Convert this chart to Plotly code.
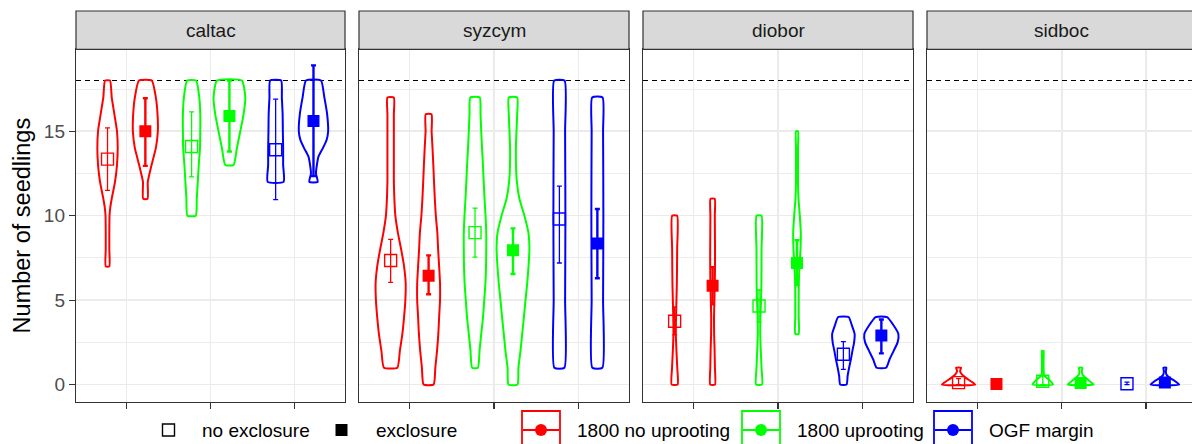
import plotly.graph_objects as go

# ---------------- data ----------------
species = ["caltac", "syzcym", "diobor", "sidboc"]
treatments = ["1800 no uprooting", "1800 uprooting", "OGF margin"]
exclosures = ["no exclosure", "exclosure"]
y_tick_vals = [0, 5, 10, 15]
y_minor_vals = [2.5, 7.5, 12.5, 17.5]
max_seedlings = 18

# group order in every list: (trt1,no) (trt1,ex) (trt2,no) (trt2,ex) (trt3,no) (trt3,ex)
caltac_mean = [13.35, 15.0, 14.1, 15.9, 13.9, 15.6]
caltac_lo = [11.5, 12.95, 12.3, 13.8, 10.95, 12.35]
caltac_hi = [15.2, 16.95, 16.15, 18.0, 16.9, 18.9]
caltac_dens_y = [
    [7, 8, 9, 10, 10.5, 11, 12, 13, 14, 15, 16, 17, 18],
    [11, 12, 12.5, 13, 14, 15, 16, 17, 18],
    [10, 11, 12, 13, 14, 15, 16, 17, 18],
    [13, 14, 15, 16, 17, 18],
    [12, 13, 14, 15, 16, 17, 18],
    [12, 12.5, 13, 13.5, 14, 14.5, 15, 16, 17, 18],
]
caltac_dens = [
    [1.8, 1.8, 1.8, 2.0, 2.8, 4.2, 7.5, 9.5, 10.2, 9.5, 6.9, 4.2, 2.5],
    [2.2, 2.4, 4.2, 6.2, 10.5, 12.5, 12.2, 10.5, 6.4],
    [4.2, 5.2, 6.2, 7.2, 8.4, 8.7, 8.7, 7.7, 4.5],
    [4.2, 7.5, 10.9, 14.2, 15.9, 12.5],
    [8.0, 7.5, 7.5, 7.2, 7.0, 6.2, 5.5],
    [4.2, 2.5, 3.4, 5.0, 9.4, 13.2, 14.7, 13.7, 10.9, 7.5],
]

syzcym_mean = [7.35, 6.45, 9.0, 7.95, 9.8, 8.35]
syzcym_lo = [6.05, 5.35, 7.55, 6.55, 7.2, 6.3]
syzcym_hi = [8.6, 7.65, 10.45, 9.25, 11.75, 10.4]
syzcym_dens_y = [
    [1, 2, 3, 4, 5, 6, 7, 8, 9, 10, 11, 12, 13, 14, 15, 16, 17],
    [0, 1, 2, 3, 4, 5, 6, 7, 8, 9, 10, 11, 12, 13, 14, 15, 16],
    [1, 2, 3, 4, 5, 6, 7, 8, 9, 10, 11, 12, 13, 14, 15, 16, 17],
    [0, 1, 2, 3, 4, 5, 6, 7, 8, 9, 10, 11, 12, 13, 14, 15, 16, 17],
    [1, 5, 10, 15, 18],
    [1, 5, 10, 15, 17],
]
syzcym_dens = [
    [6.7, 9.2, 11.7, 13.4, 14.7, 15.0, 13.4, 10.5, 7.2, 4.7, 3.7, 3.2, 3.2, 3.2, 3.2, 3.2, 3.2],
    [5.0, 6.7, 8.4, 9.7, 10.5, 11.4, 11.4, 10.5, 9.5, 8.7, 7.2, 6.2, 5.4, 4.7, 3.9, 3.0, 2.9],
    [2.9, 4.5, 6.2, 8.0, 9.2, 10.4, 11.0, 11.2, 11.2, 10.5, 9.5, 8.7, 7.9, 7.0, 6.2, 5.5, 4.7],
    [4.5, 5.4, 7.5, 9.2, 10.9, 12.5, 14.2, 15.5, 16.4, 15.4, 11.4, 6.4, 3.9, 3.0, 2.9, 3.5, 4.2, 4.2],
    [5.0, 5.7, 6.0, 5.7, 5.2],
    [5.0, 5.7, 6.0, 5.7, 5.2],
]

diobor_mean = [3.75, 5.85, 4.65, 7.2, 1.8, 2.9]
diobor_lo = [2.95, 4.75, 3.7, 5.9, 0.9, 1.85]
diobor_hi = [4.6, 6.95, 5.6, 8.55, 2.55, 3.85]
diobor_dens_y = [
    [0, 1, 2, 3, 4, 5, 6, 8, 10],
    [0, 1, 2, 3, 4, 5, 6, 7, 8, 9, 10, 11],
    [0, 1, 2, 3, 4, 5, 6, 8, 10],
    [3, 4, 5, 6, 7, 8, 9, 10, 11, 12, 13, 14, 15],
    [0, 0.5, 1, 1.5, 2, 2.5, 3, 3.5, 4],
    [1, 1.5, 2, 2.5, 3, 3.5, 4],
]
diobor_dens = [
    [3.0, 2.6, 1.8, 1.2, 1.4, 1.8, 2.2, 2.5, 2.5],
    [2.4, 2.3, 2.0, 1.5, 1.4, 1.8, 2.2, 2.4, 2.4, 2.3, 2.2, 2.1],
    [3.0, 2.5, 1.8, 1.2, 1.4, 2.0, 2.4, 2.5, 2.5],
    [1.7, 1.7, 1.7, 1.8, 2.5, 3.5, 3.8, 2.8, 1.5, 1.0, 1.0, 1.0, 1.0],
    [3.2, 4.2, 5.7, 7.5, 9.0, 10.7, 11.2, 8.5, 5.2],
    [4.8, 8.2, 12.3, 16.2, 17.0, 12.3, 5.7],
]

sidboc_mean = [0.12, 0.03, 0.2, 0.1, 0.05, 0.12]
sidboc_lo = [0.0, 0.0, 0.0, 0.0, 0.0, 0.0]
sidboc_hi = [0.35, 0.06, 0.5, 0.3, 0.15, 0.3]
sidboc_dens_y = [
    [0, 0.2, 0.4, 0.6, 0.8, 1],
    [],
    [0, 0.15, 0.3, 0.45, 0.6, 1, 1.5, 2],
    [0, 0.2, 0.4, 0.6, 0.8, 1],
    [],
    [0, 0.2, 0.4, 0.6, 0.8, 1],
]
sidboc_dens = [
    [16.7, 12.3, 7.3, 3.3, 1.5, 2.5],
    [],
    [10.2, 8.5, 6.0, 3.0, 1.2, 0.8, 0.8, 0.8],
    [13.0, 9.0, 5.0, 1.7, 1.2, 1.7],
    [],
    [14.3, 10.3, 4.7, 1.5, 1.0, 1.5],
]

means = [caltac_mean, syzcym_mean, diobor_mean, sidboc_mean]
los = [caltac_lo, syzcym_lo, diobor_lo, sidboc_lo]
his = [caltac_hi, syzcym_hi, diobor_hi, sidboc_hi]
dens_ys = [caltac_dens_y, syzcym_dens_y, diobor_dens_y, sidboc_dens_y]
denss = [caltac_dens, syzcym_dens, diobor_dens, sidboc_dens]

# ---------------- style ----------------
W, H = 1192, 444
trt_colors = ["#FF0000", "#00FF00", "#0000FF"]
FONT = "Liberation Sans, Arial, Helvetica, sans-serif"
DODGE = 0.225
DENS_SCALE = 1 / 84.2          # density-to-x-width scaling
panel_px = [(76, 345), (359, 629), (643, 913), (927, 1196)]
plot_top_px, plot_bot_px = 49.3, 401.5
strip_top_px = 11
unit_px = 84.2

def px_x(p):
    return p / W

def px_y(p):
    return (H - p) / H

fig = go.Figure()

for s_i, sp in enumerate(species):
    xa = "x" if s_i == 0 else f"x{s_i + 1}"
    ya = "y" if s_i == 0 else f"y{s_i + 1}"
    # dashed max line as a trace spanning the panel
    fig.add_trace(go.Scatter(
        x=[0.4, 3.6], y=[max_seedlings, max_seedlings], mode="lines", xaxis=xa, yaxis=ya,
        line=dict(color="black", width=1.1, dash="5px,4px"), hoverinfo="skip", showlegend=False))
    for g in range(6):
        t_i, e_i = g // 2, g % 2
        col = trt_colors[t_i]
        cx = t_i + 1 + (DODGE if e_i == 1 else -DODGE)
        ys = dens_ys[s_i][g]
        ds = denss[s_i][g]
        if ys:
            xs = [cx + d * DENS_SCALE for d in ds] + [cx - d * DENS_SCALE for d in reversed(ds)] + [cx + ds[0] * DENS_SCALE]
            yy = list(ys) + list(reversed(ys)) + [ys[0]]
            fig.add_trace(go.Scatter(
                x=xs, y=yy, mode="lines", xaxis=xa, yaxis=ya,
                line=dict(color=col, width=2, shape="spline", smoothing=0.5),
                hoverinfo="skip", showlegend=False))
        m = means[s_i][g]
        lo = los[s_i][g]
        hi = his[s_i][g]
        fig.add_trace(go.Scatter(
            x=[cx], y=[m], mode="markers", xaxis=xa, yaxis=ya,
            marker=dict(symbol="square-open" if e_i == 0 else "square", size=12,
                        color=col, line=dict(color=col, width=1.4 if e_i == 0 else 0)),
            error_y=dict(type="data", symmetric=False, array=[hi - m], arrayminus=[m - lo],
                         color=col, thickness=1.3 if e_i == 0 else 2.4, width=2.5),
            name=f"{treatments[t_i]} / {exclosures[e_i]}",
            hoverinfo="skip", showlegend=False))

layout = dict(
    width=W, height=H, autosize=False,
    margin=dict(l=0, r=0, t=0, b=0, pad=0),
    paper_bgcolor="white", plot_bgcolor="white",
    font=dict(family=FONT, color="#1A1A1A"),
    showlegend=False,
)

ydom = [px_y(plot_bot_px), px_y(plot_top_px)]
yrange = [-1.0, 19.85]
shapes = []
annotations = []
for s_i, sp in enumerate(species):
    sfx = "" if s_i == 0 else str(s_i + 1)
    l_px, r_px = panel_px[s_i]
    last = s_i == 3
    dom_r = 1.0 if last else px_x(r_px)
    xmax = 0.4 + (min(r_px, W) - l_px) / unit_px if last else 3.6
    layout["xaxis" + sfx] = dict(
        domain=[px_x(l_px), dom_r], range=[0.4, xmax], anchor="y" + sfx,
        tickvals=[1, 2, 3], ticktext=["", "", ""], ticks="outside", ticklen=6,
        tickwidth=1.2, tickcolor="#333333",
        showgrid=True, gridcolor="#EBEBEB", gridwidth=1.6,
        showline=True, linecolor="#333333", linewidth=1.2, mirror=True,
        zeroline=False, fixedrange=True,
    )
    layout["yaxis" + sfx] = dict(
        domain=ydom, range=yrange, anchor="x" + sfx,
        tickvals=y_tick_vals, ticktext=[str(v) for v in y_tick_vals],
        ticks="outside" if s_i == 0 else "", ticklen=6, tickwidth=1.2, tickcolor="#333333",
        showticklabels=(s_i == 0),
        tickfont=dict(size=19, color="#4D4D4D", family=FONT),
        showgrid=True, gridcolor="#EBEBEB", gridwidth=1.6,
        minor=dict(tickvals=y_minor_vals, showgrid=True, gridcolor="#EBEBEB", gridwidth=0.9, ticks=""),
        showline=True, linecolor="#333333", linewidth=1.2, mirror=(not last),
        zeroline=False, fixedrange=True,
    )
    # strip
    shapes.append(dict(type="rect", xref="paper", yref="paper",
                       x0=px_x(l_px), x1=px_x(r_px + (6 if last else 0)),
                       y0=px_y(plot_top_px), y1=px_y(strip_top_px),
                       fillcolor="#D9D9D9", line=dict(color="#333333", width=1.2), layer="above"))
    annotations.append(dict(text=sp, xref="paper", yref="paper",
                            x=px_x((l_px + r_px) / 2), y=px_y((plot_top_px + strip_top_px) / 2),
                            xanchor="center", yanchor="middle", showarrow=False,
                            font=dict(size=19, color="#1A1A1A", family=FONT)))

# y axis title
annotations.append(dict(text="Number of seedlings", xref="paper", yref="paper",
                        x=px_x(22), y=(ydom[0] + ydom[1]) / 2, textangle=-90,
                        xanchor="center", yanchor="middle", showarrow=False,
                        font=dict(size=23.5, color="black", family=FONT)))

# legend (drawn manually, ggplot-style)
leg_y = 430
shapes.append(dict(type="rect", xref="paper", yref="paper",
                   x0=px_x(162.5), x1=px_x(174.5), y0=px_y(leg_y + 6), y1=px_y(leg_y - 6),
                   line=dict(color="black", width=1.4), fillcolor="rgba(0,0,0,0)"))
annotations.append(dict(text=exclosures[0], xref="paper", yref="paper", x=px_x(200), y=px_y(leg_y),
                        xanchor="left", yanchor="middle", showarrow=False,
                        font=dict(size=19, color="black", family=FONT)))
shapes.append(dict(type="rect", xref="paper", yref="paper",
                   x0=px_x(335.5), x1=px_x(347.5), y0=px_y(leg_y + 6), y1=px_y(leg_y - 6),
                   line=dict(color="black", width=0), fillcolor="black"))
annotations.append(dict(text=exclosures[1], xref="paper", yref="paper", x=px_x(374), y=px_y(leg_y),
                        xanchor="left", yanchor="middle", showarrow=False,
                        font=dict(size=19, color="black", family=FONT)))
key_left = [522, 742, 934]
for t_i, trt in enumerate(treatments):
    col = trt_colors[t_i]
    kl = key_left[t_i]
    shapes.append(dict(type="rect", xref="paper", yref="paper",
                       x0=px_x(kl), x1=px_x(kl + 38), y0=px_y(leg_y + 20), y1=px_y(leg_y - 19),
                       line=dict(color=col, width=1.8), fillcolor="rgba(0,0,0,0)"))
    shapes.append(dict(type="line", xref="paper", yref="paper",
                       x0=px_x(kl + 1), x1=px_x(kl + 37), y0=px_y(leg_y), y1=px_y(leg_y),
                       line=dict(color=col, width=2)))
    shapes.append(dict(type="circle", xref="paper", yref="paper",
                       x0=px_x(kl + 19 - 6), x1=px_x(kl + 19 + 6),
                       y0=px_y(leg_y + 6), y1=px_y(leg_y - 6),
                       line=dict(color=col, width=0), fillcolor=col))
    annotations.append(dict(text=trt, xref="paper", yref="paper", x=px_x(kl + 53), y=px_y(leg_y),
                            xanchor="left", yanchor="middle", showarrow=False,
                            font=dict(size=19, color="black", family=FONT)))

layout["shapes"] = shapes
layout["annotations"] = annotations
fig.update_layout(**layout)
fig.write_html("out.html",
               config={"displayModeBar": False, "staticPlot": True},
               post_script="document.body.style.margin='0';document.body.style.overflow='hidden';")
